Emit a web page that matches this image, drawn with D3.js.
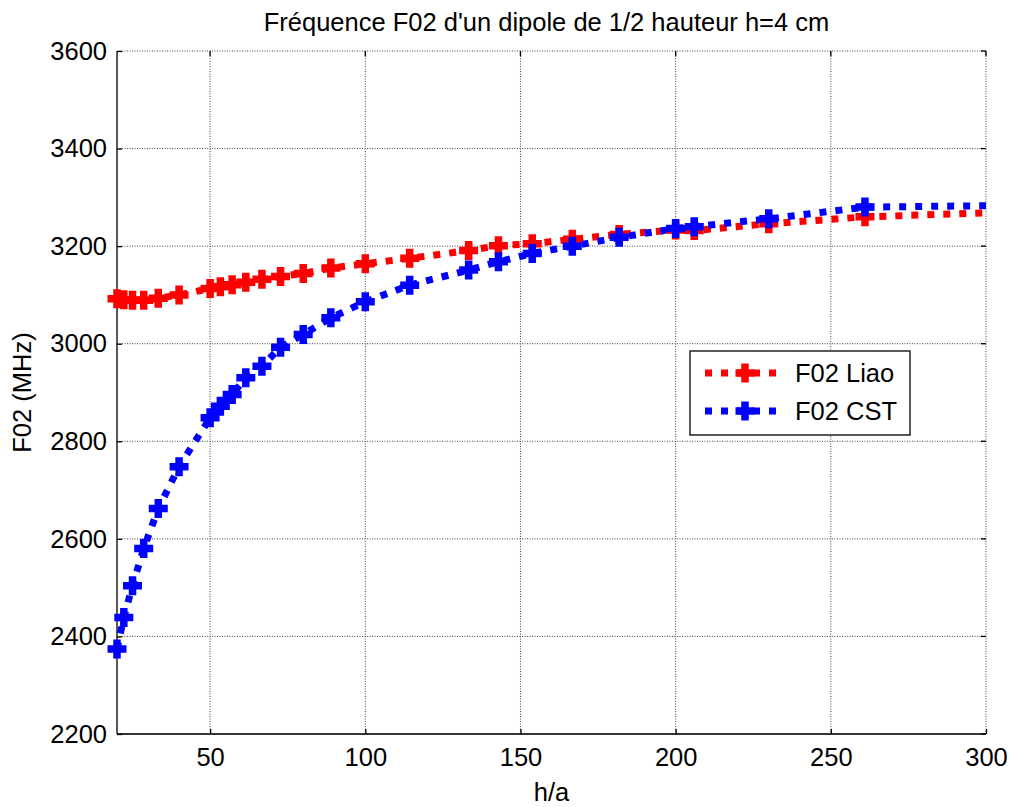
<!DOCTYPE html>
<html>
<head>
<meta charset="utf-8">
<script src="https://cdn.jsdelivr.net/npm/d3@7"></script>
<style>
  body { margin: 0; background: #fff; }
  text { font-family: "Liberation Sans", Arial, Helvetica, sans-serif; fill: #000; }
</style>
</head>
<body>
<div id="chart"></div>
<script>
// h/a values (last point lies past the axis limit)
var ratios = [20, 22.2, 25, 28.6, 33.3, 40, 50, 53.3, 57.1, 61.5, 66.7, 72.7, 80, 88.9,
              100, 114.3, 133.3, 142.9, 153.8, 166.7, 181.8, 200, 206, 230, 261, 400];
// F02 Liao (MHz)
var liao = [3092, 3090, 3089, 3089, 3093, 3100, 3113, 3117, 3121, 3126, 3132, 3138, 3144, 3155,
            3164, 3175, 3191, 3201, 3205, 3214, 3224, 3233, 3232, 3246, 3260, 3289];
// F02 CST (MHz)
var cst = [2374, 2439, 2504, 2580, 2662, 2748, 2848, 2872, 2896, 2930, 2954, 2993, 3019, 3053,
           3086, 3120, 3151, 3168, 3185, 3200, 3218, 3236, 3240, 3256, 3280, 3290];
var xTicks = [50, 100, 150, 200, 250, 300];
var yTicks = [2200, 2400, 2600, 2800, 3000, 3200, 3400, 3600];
var seriesNames = ["F02 Liao", "F02 CST"];
var seriesColors = ["#ff0000", "#0000ff"];

var width = 1011, height = 807;
// plot area edges (don't call it "top": window.top is read-only)
var pLeft = 117, pRight = 986, pTop = 51, pBottom = 734;
var fontSize = "25.5px";

var svg = d3.select("#chart").append("svg")
    .attr("width", width)
    .attr("height", height);

var x = d3.scaleLinear().domain([20, 300]).range([pLeft, pRight]);
var y = d3.scaleLinear().domain([2200, 3600]).range([pBottom, pTop]);

svg.append("defs").append("clipPath")
    .attr("id", "plotclip")
  .append("rect")
    .attr("x", pLeft).attr("y", pTop)
    .attr("width", pRight - pLeft).attr("height", pBottom - pTop);

// grid lines (dotted)
var grid = svg.append("g").attr("class", "grid");
grid.selectAll("line.vx")
    .data(xTicks)
    .enter().append("line")
    .attr("x1", function(d) { return x(d); })
    .attr("x2", function(d) { return x(d); })
    .attr("y1", pTop).attr("y2", pBottom)
    .attr("stroke", "#444").attr("stroke-width", 1)
    .attr("stroke-dasharray", "1 1.5");
grid.selectAll("line.hy")
    .data(yTicks)
    .enter().append("line")
    .attr("x1", pLeft).attr("x2", pRight)
    .attr("y1", function(d) { return y(d); })
    .attr("y2", function(d) { return y(d); })
    .attr("stroke", "#444").attr("stroke-width", 1)
    .attr("stroke-dasharray", "1 1.5");

// axes, ticks pointing inwards
var xAxis = d3.axisBottom(x).tickValues(xTicks).tickSize(-5).tickPadding(14)
    .tickFormat(d3.format("d"));
var yAxis = d3.axisLeft(y).tickValues(yTicks).tickSize(-5).tickPadding(10)
    .tickFormat(d3.format("d"));

var gx = svg.append("g")
    .attr("transform", "translate(0," + pBottom + ")")
    .call(xAxis);
var gy = svg.append("g")
    .attr("transform", "translate(" + pLeft + ",0)")
    .call(yAxis);

[gx, gy].forEach(function(g) {
    g.select(".domain").attr("stroke", "#000").attr("stroke-width", 1.3);
    g.selectAll(".tick line").attr("stroke", "#000").attr("stroke-width", 1.3);
    g.selectAll(".tick text")
        .style("font-family", "'Liberation Sans', Arial, sans-serif")
        .style("font-size", fontSize)
        .attr("fill", "#000");
});
gx.select(".domain").attr("d", "M" + pLeft + ",0H" + pRight);
gy.select(".domain").attr("d", "M0," + pTop + "V" + pBottom);

// mirrored ticks on top and right
svg.append("g").selectAll("line")
    .data(xTicks)
    .enter().append("line")
    .attr("x1", function(d) { return x(d); })
    .attr("x2", function(d) { return x(d); })
    .attr("y1", pTop).attr("y2", pTop + 5)
    .attr("stroke", "#000").attr("stroke-width", 1.3);
svg.append("g").selectAll("line")
    .data(yTicks)
    .enter().append("line")
    .attr("x1", pRight).attr("x2", pRight - 5)
    .attr("y1", function(d) { return y(d); })
    .attr("y2", function(d) { return y(d); })
    .attr("stroke", "#000").attr("stroke-width", 1.3);

// series
var line = d3.line()
    .x(function(d) { return x(d[0]); })
    .y(function(d) { return y(d[1]); });

var cross = "M-9.5,0H9.5M0,-9.5V9.5";

var lines = svg.append("g").attr("clip-path", "url(#plotclip)");
var marks = svg.append("g");
[liao, cst].forEach(function(vals, i) {
    var pts = ratios.map(function(r, j) { return [r, vals[j]]; });
    lines.append("path")
        .datum(pts)
        .attr("d", line)
        .attr("fill", "none")
        .attr("stroke", seriesColors[i])
        .attr("stroke-width", 7)
        .attr("stroke-dasharray", "7 9");
    // markers are not clipped (like MATLAB) but only drawn inside the x limits
    marks.append("g").selectAll("path")
        .data(pts.filter(function(d) { return d[0] <= x.domain()[1]; }))
        .enter().append("path")
        .attr("d", cross)
        .attr("transform", function(d) { return "translate(" + x(d[0]) + "," + y(d[1]) + ")"; })
        .attr("fill", "none")
        .attr("stroke", seriesColors[i])
        .attr("stroke-width", 7.5);
});

// title and axis labels
svg.append("text")
    .attr("x", (pLeft + pRight) / 2 - 5).attr("y", 31)
    .attr("text-anchor", "middle")
    .style("font-size", fontSize)
    .text("Fréquence F02 d'un dipole de 1/2 hauteur h=4 cm");

svg.append("text")
    .attr("x", (pLeft + pRight) / 2).attr("y", 801)
    .attr("text-anchor", "middle")
    .style("font-size", fontSize)
    .text("h/a");

svg.append("text")
    .attr("transform", "translate(31," + (pTop + pBottom) / 2 + ") rotate(-90)")
    .attr("text-anchor", "middle")
    .style("font-size", fontSize)
    .text("F02 (MHz)");

// legend
var legend = svg.append("g").attr("transform", "translate(690,351)");
legend.append("rect")
    .attr("width", 220).attr("height", 84)
    .attr("fill", "#fff")
    .attr("stroke", "#000").attr("stroke-width", 1.3);
seriesNames.forEach(function(name, i) {
    var ly = 22 + i * 38;
    legend.append("line")
        .attr("x1", 15).attr("x2", 88)
        .attr("y1", ly).attr("y2", ly)
        .attr("stroke", seriesColors[i])
        .attr("stroke-width", 7)
        .attr("stroke-dasharray", "7 9");
    legend.append("path")
        .attr("d", cross)
        .attr("transform", "translate(55," + ly + ")")
        .attr("fill", "none")
        .attr("stroke", seriesColors[i])
        .attr("stroke-width", 7.5);
    legend.append("text")
        .attr("x", 105).attr("y", ly)
        .attr("dy", "0.36em")
        .style("font-size", fontSize)
        .text(name);
});
</script>
</body>
</html>
